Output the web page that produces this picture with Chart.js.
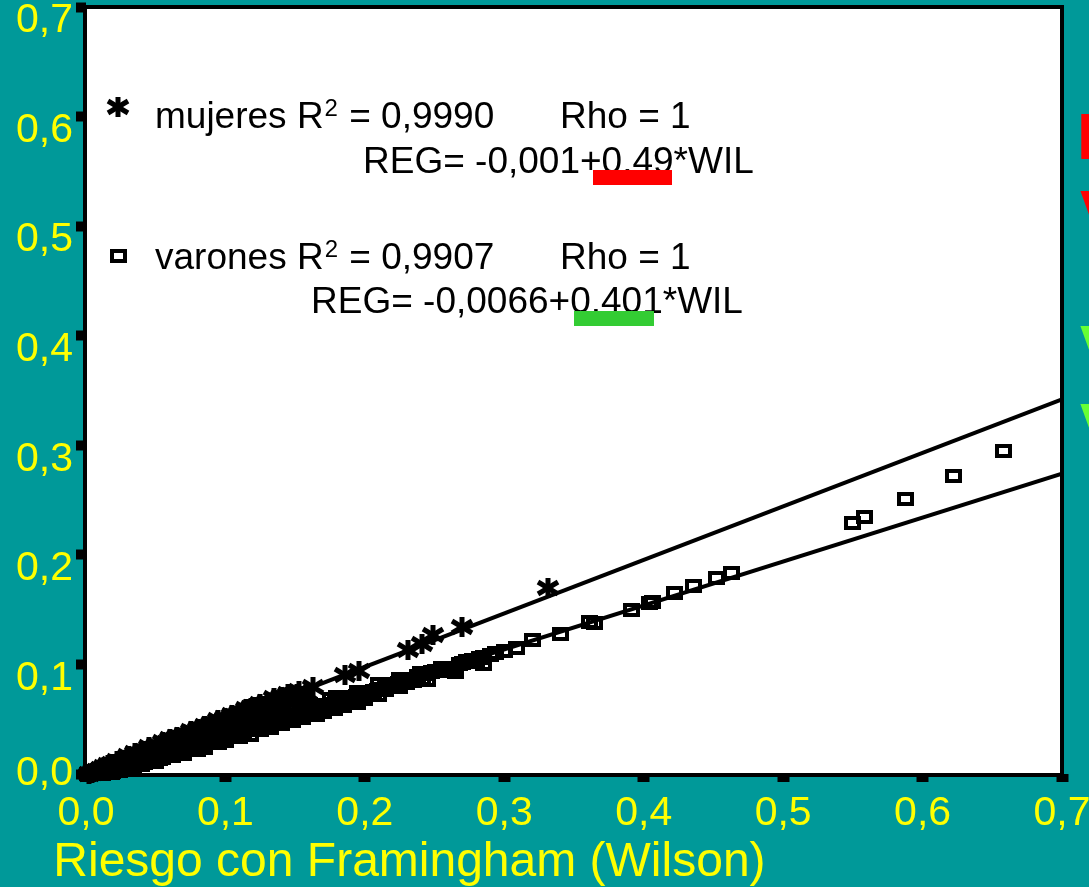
<!DOCTYPE html>
<html>
<head>
<meta charset="utf-8">
<script src="https://cdn.jsdelivr.net/npm/chart.js@4.4.1/dist/chart.umd.min.js"></script>
<style>
  html, body { margin: 0; padding: 0; background: #009999; overflow: hidden; }
  canvas { display: block; }
</style>
</head>
<body>
<canvas id="chart" width="1089" height="887"></canvas>
<script>
// tick labels
const xTickLabels = ["0,0", "0,1", "0,2", "0,3", "0,4", "0,5", "0,6", "0,7"];
const yTickLabels = ["0,0", "0,1", "0,2", "0,3", "0,4", "0,5", "0,6", "0,7"];
const xTitle = "Riesgo con Framingham (Wilson)";

// mujeres: [Wilson, REG]
const mujeresPts = [
  [0.002, 0.000], [0.004, 0.001], [0.006, 0.002], [0.008, 0.003], [0.010, 0.004],
  [0.013, 0.006], [0.015, 0.006], [0.018, 0.008], [0.021, 0.009], [0.024, 0.011],
  [0.027, 0.012], [0.030, 0.014], [0.033, 0.015], [0.036, 0.017], [0.040, 0.019],
  [0.043, 0.020], [0.046, 0.022], [0.050, 0.024], [0.053, 0.025], [0.057, 0.027],
  [0.060, 0.029], [0.064, 0.031], [0.067, 0.032], [0.071, 0.034], [0.075, 0.036],
  [0.078, 0.037], [0.082, 0.039], [0.086, 0.041], [0.089, 0.043], [0.093, 0.045],
  [0.097, 0.047], [0.100, 0.048], [0.104, 0.050], [0.108, 0.052], [0.112, 0.054],
  [0.116, 0.056], [0.120, 0.058], [0.124, 0.060], [0.128, 0.062], [0.132, 0.064],
  [0.136, 0.066], [0.140, 0.068], [0.144, 0.070], [0.148, 0.072],
  [0.011, 0.005], [0.016, 0.008], [0.019, 0.009], [0.023, 0.010], [0.028, 0.013],
  [0.031, 0.015], [0.038, 0.018], [0.042, 0.021], [0.048, 0.022], [0.052, 0.026],
  [0.058, 0.028], [0.063, 0.030], [0.068, 0.033], [0.073, 0.035], [0.077, 0.038],
  [0.083, 0.040], [0.087, 0.042], [0.091, 0.044], [0.096, 0.046], [0.099, 0.049],
  [0.103, 0.049], [0.107, 0.053], [0.111, 0.053], [0.114, 0.056], [0.119, 0.057],
  [0.123, 0.061], [0.127, 0.061], [0.131, 0.065], [0.134, 0.064], [0.139, 0.067],
  [0.143, 0.069], [0.147, 0.071], [0.151, 0.073],
  [0.020, 0.007], [0.035, 0.013], [0.045, 0.018], [0.055, 0.022], [0.062, 0.026],
  [0.070, 0.029], [0.078, 0.033], [0.085, 0.036], [0.095, 0.040], [0.105, 0.045],
  [0.115, 0.049], [0.125, 0.054], [0.135, 0.058], [0.142, 0.062],
  [0.025, 0.010], [0.040, 0.016], [0.065, 0.028], [0.075, 0.031], [0.092, 0.038],
  [0.102, 0.043], [0.112, 0.047], [0.122, 0.051], [0.132, 0.056], [0.138, 0.061],
  [0.145, 0.065], [0.150, 0.068], [0.155, 0.071], [0.158, 0.074],
  [0.030, 0.016], [0.050, 0.026], [0.060, 0.032], [0.070, 0.036], [0.080, 0.041],
  [0.090, 0.046], [0.100, 0.051], [0.110, 0.056], [0.118, 0.060], [0.120, 0.061],
  [0.130, 0.066], [0.140, 0.070],
  [0.022, 0.012], [0.035, 0.019], [0.045, 0.025], [0.055, 0.029], [0.065, 0.034],
  [0.075, 0.039], [0.085, 0.044], [0.095, 0.049], [0.105, 0.054], [0.115, 0.059],
  [0.125, 0.064], [0.135, 0.069], [0.145, 0.073],
  [0.153, 0.076], [0.163, 0.079], [0.186, 0.090], [0.196, 0.094], [0.231, 0.113],
  [0.241, 0.119], [0.249, 0.127], [0.270, 0.134], [0.331, 0.170]
];

// varones: [Wilson, REG]
const varonesPts = [
  [0.001, 0.000], [0.003, 0.000], [0.005, 0.001], [0.008, 0.001], [0.010, 0.001],
  [0.013, 0.002], [0.016, 0.002], [0.019, 0.002], [0.022, 0.003], [0.026, 0.004],
  [0.030, 0.005], [0.034, 0.007], [0.038, 0.009], [0.042, 0.010], [0.046, 0.012],
  [0.050, 0.013], [0.055, 0.015], [0.060, 0.017], [0.065, 0.019], [0.070, 0.021],
  [0.075, 0.023], [0.080, 0.025], [0.085, 0.027], [0.090, 0.029], [0.095, 0.032],
  [0.100, 0.034], [0.105, 0.036], [0.110, 0.038], [0.116, 0.040], [0.122, 0.042],
  [0.128, 0.045], [0.134, 0.047], [0.140, 0.050], [0.146, 0.052], [0.152, 0.054],
  [0.158, 0.057], [0.164, 0.059], [0.170, 0.062], [0.176, 0.064], [0.182, 0.066],
  [0.188, 0.069], [0.194, 0.071], [0.200, 0.074], [0.206, 0.076], [0.212, 0.078],
  [0.218, 0.081], [0.224, 0.083],
  [0.012, 0.000], [0.018, 0.001], [0.024, 0.003], [0.028, 0.005], [0.032, 0.006],
  [0.036, 0.008], [0.040, 0.010], [0.044, 0.011], [0.048, 0.013], [0.053, 0.014],
  [0.058, 0.016], [0.063, 0.019], [0.068, 0.020], [0.073, 0.023], [0.078, 0.024],
  [0.083, 0.027], [0.088, 0.028], [0.093, 0.031], [0.098, 0.032], [0.103, 0.035],
  [0.108, 0.037], [0.113, 0.039], [0.119, 0.041], [0.125, 0.044], [0.131, 0.046],
  [0.137, 0.048], [0.143, 0.051], [0.149, 0.053], [0.155, 0.056], [0.161, 0.058],
  [0.167, 0.060], [0.173, 0.063], [0.179, 0.065], [0.185, 0.067], [0.191, 0.070],
  [0.197, 0.072], [0.203, 0.075], [0.209, 0.077], [0.215, 0.080], [0.221, 0.082],
  [0.227, 0.084], [0.233, 0.087], [0.238, 0.089], [0.244, 0.091], [0.248, 0.093],
  [0.257, 0.096], [0.268, 0.100], [0.273, 0.103], [0.282, 0.106], [0.290, 0.109],
  [0.045, 0.015], [0.060, 0.021], [0.075, 0.027], [0.090, 0.033], [0.105, 0.039],
  [0.120, 0.045], [0.135, 0.051], [0.150, 0.058], [0.165, 0.063], [0.180, 0.070],
  [0.195, 0.075], [0.210, 0.082], [0.225, 0.087], [0.240, 0.092], [0.255, 0.097],
  [0.270, 0.101], [0.285, 0.107],
  [0.062, 0.016], [0.080, 0.022], [0.095, 0.028], [0.110, 0.034], [0.125, 0.040],
  [0.140, 0.046], [0.155, 0.051], [0.170, 0.057], [0.185, 0.062], [0.200, 0.068],
  [0.100, 0.040], [0.115, 0.046], [0.125, 0.049], [0.130, 0.052], [0.140, 0.055],
  [0.145, 0.058], [0.155, 0.061], [0.160, 0.064], [0.175, 0.068],
  [0.040, 0.008], [0.050, 0.011], [0.070, 0.018], [0.085, 0.024], [0.100, 0.030],
  [0.118, 0.036], [0.132, 0.042], [0.148, 0.048], [0.165, 0.054], [0.178, 0.059],
  [0.195, 0.065], [0.210, 0.072], [0.225, 0.079], [0.245, 0.086], [0.265, 0.093],
  [0.285, 0.100],
  [0.160, 0.055], [0.190, 0.067], [0.215, 0.077], [0.235, 0.085], [0.260, 0.094],
  [0.280, 0.102], [0.300, 0.112],
  [0.230, 0.083], [0.241, 0.087], [0.251, 0.094], [0.263, 0.097], [0.277, 0.104],
  [0.294, 0.110], [0.309, 0.115], [0.320, 0.122], [0.340, 0.128], [0.361, 0.139],
  [0.365, 0.138], [0.391, 0.150], [0.404, 0.156], [0.406, 0.157], [0.422, 0.165],
  [0.436, 0.172], [0.452, 0.179], [0.463, 0.183], [0.550, 0.229], [0.558, 0.235],
  [0.588, 0.251], [0.622, 0.272], [0.658, 0.295]
];

// regression lines (end points)
const fitMujeres = [[0.000, 0.000], [0.700, 0.342]];
const fitVarones = [[0.0165, 0.000], [0.700, 0.274]];

const FONT = "'Liberation Sans', Arial, sans-serif";
const YELLOW = "#ffff00";

function asteriskIcon() {
  const c = document.createElement("canvas");
  c.width = 24; c.height = 22;
  const g = c.getContext("2d");
  g.strokeStyle = "#000";
  g.lineWidth = 5;
  [[0, -10, 0, 10], [-10, -6, 10, 6], [-10, 6, 10, -6]].forEach((s) => {
    g.beginPath();
    g.moveTo(12 + s[0], 11 + s[1]);
    g.lineTo(12 + s[2], 11 + s[3]);
    g.stroke();
  });
  return c;
}

function squareIcon() {
  const c = document.createElement("canvas");
  c.width = 17; c.height = 14;
  const g = c.getContext("2d");
  g.fillStyle = "#000";
  g.fillRect(0, 0, 17, 14);
  g.clearRect(4, 4, 9, 6);
  return c;
}

const starImg = asteriskIcon();
const boxImg = squareIcon();
const toXY = (pts) => pts.map((p) => ({ x: p[0], y: p[1] }));

const framePlugin = {
  id: "frame",
  beforeDraw(chart) {
    const { ctx, chartArea: a } = chart;
    ctx.save();
    ctx.fillStyle = "#009999";
    ctx.fillRect(0, 0, chart.width, chart.height);
    ctx.fillStyle = "#fff";
    ctx.fillRect(a.left, a.top, a.right - a.left, a.bottom - a.top);
    ctx.restore();
  },
  beforeDatasetsDraw(chart) {
    const { ctx, chartArea: a } = chart;
    ctx.save();
    ctx.strokeStyle = "#000";
    ctx.lineWidth = 4;
    ctx.strokeRect(a.left - 1, a.top, a.right - a.left + 1, a.bottom - a.top + 1);
    ctx.restore();
    // crisp marker images
    ctx.imageSmoothingEnabled = false;
  },
  afterDatasetsDraw(chart) {
    chart.ctx.imageSmoothingEnabled = true;
  }
};

function legendRow(ctx, icon, iy, name, r2, base) {
  ctx.drawImage(icon, Math.round(118 - icon.width / 2), Math.round(iy - icon.height / 2));
  ctx.font = `37px ${FONT}`;
  let x = 155;
  ctx.fillText(name + " R", x, base);
  x += ctx.measureText(name + " R").width;
  ctx.font = `24px ${FONT}`;
  ctx.fillText("2", x + 1, base - 12);
  x += ctx.measureText("2").width + 2;
  ctx.font = `37px ${FONT}`;
  ctx.fillText(" = " + r2, x, base);
  ctx.fillText("Rho = 1", 560, base);
}

const notesPlugin = {
  id: "notes",
  afterDraw(chart) {
    const ctx = chart.ctx;
    ctx.save();
    ctx.fillStyle = "#000";
    ctx.textBaseline = "alphabetic";
    legendRow(ctx, starImg, 107, "mujeres", "0,9990", 128);
    ctx.font = `37px ${FONT}`;
    ctx.fillText("REG= -0,001+0.49*WIL", 363, 173);
    legendRow(ctx, boxImg, 256, "varones", "0,9907", 269);
    ctx.font = `37px ${FONT}`;
    ctx.fillText("REG= -0,0066+0.401*WIL", 311, 313);
    ctx.fillStyle = "#ff0000";
    ctx.fillRect(593, 170, 79, 15);
    ctx.fillStyle = "#33cc33";
    ctx.fillRect(574, 311, 80, 15);
    // letters of the slide cut off at the right edge
    ctx.font = `bold 64px ${FONT}`;
    ctx.fillStyle = "#ff0000";
    ctx.fillText("E", 1077, 159);
    ctx.fillText("V", 1080, 236);
    ctx.fillStyle = "#66ff33";
    ctx.fillText("V", 1080, 371);
    ctx.fillText("V", 1080, 449);
    ctx.restore();
  }
};

new Chart(document.getElementById("chart"), {
  type: "scatter",
  data: {
    datasets: [
      { label: "mujeres", data: toXY(mujeresPts), pointStyle: starImg, pointRadius: 5, showLine: false, clip: false },
      { label: "varones", data: toXY(varonesPts), pointStyle: boxImg, pointRadius: 5, showLine: false, clip: false },
      { label: "fit mujeres", data: toXY(fitMujeres), showLine: true, borderColor: "#000", borderWidth: 4, pointRadius: 0 },
      { label: "fit varones", data: toXY(fitVarones), showLine: true, borderColor: "#000", borderWidth: 4, pointRadius: 0 }
    ]
  },
  options: {
    responsive: false,
    animation: false,
    devicePixelRatio: 1,
    layout: { padding: { top: 7, right: 27, left: 0, bottom: 0 } },
    plugins: {
      legend: { display: false },
      tooltip: { enabled: false },
      title: {
        display: true,
        position: "bottom",
        align: "start",
        text: "    " + xTitle,
        color: YELLOW,
        font: { family: FONT, size: 48, weight: "normal", lineHeight: 1 },
        padding: 0
      }
    },
    scales: {
      x: {
        type: "linear",
        min: 0, max: 0.7,
        border: { display: false },
        grid: { drawOnChartArea: false, drawTicks: true, tickLength: 8, tickWidth: 12, tickColor: "#000" },
        ticks: {
          stepSize: 0.1, autoSkip: false, maxRotation: 0, padding: 7,
          color: YELLOW, font: { family: FONT, size: 41 },
          callback: (v) => xTickLabels[Math.round(v * 10)]
        },
        afterFit(s) { s.height = 65; s.paddingLeft = 0; s.paddingRight = 0; }
      },
      y: {
        type: "linear",
        min: 0, max: 0.7,
        border: { display: false },
        grid: { drawOnChartArea: false, drawTicks: true, tickLength: 10, tickWidth: 10, tickColor: "#000" },
        ticks: {
          stepSize: 0.1, autoSkip: false, padding: 3,
          color: YELLOW, font: { family: FONT, size: 41, lineHeight: "28px" },
          callback: (v) => {
            const i = Math.round(v * 10);
            return i === 0 ? yTickLabels[i] : ["", yTickLabels[i]];
          }
        },
        afterFit(s) { s.width = 86; s.paddingTop = 0; s.paddingBottom = 0; }
      }
    }
  },
  plugins: [framePlugin, notesPlugin]
});
</script>
</body>
</html>
